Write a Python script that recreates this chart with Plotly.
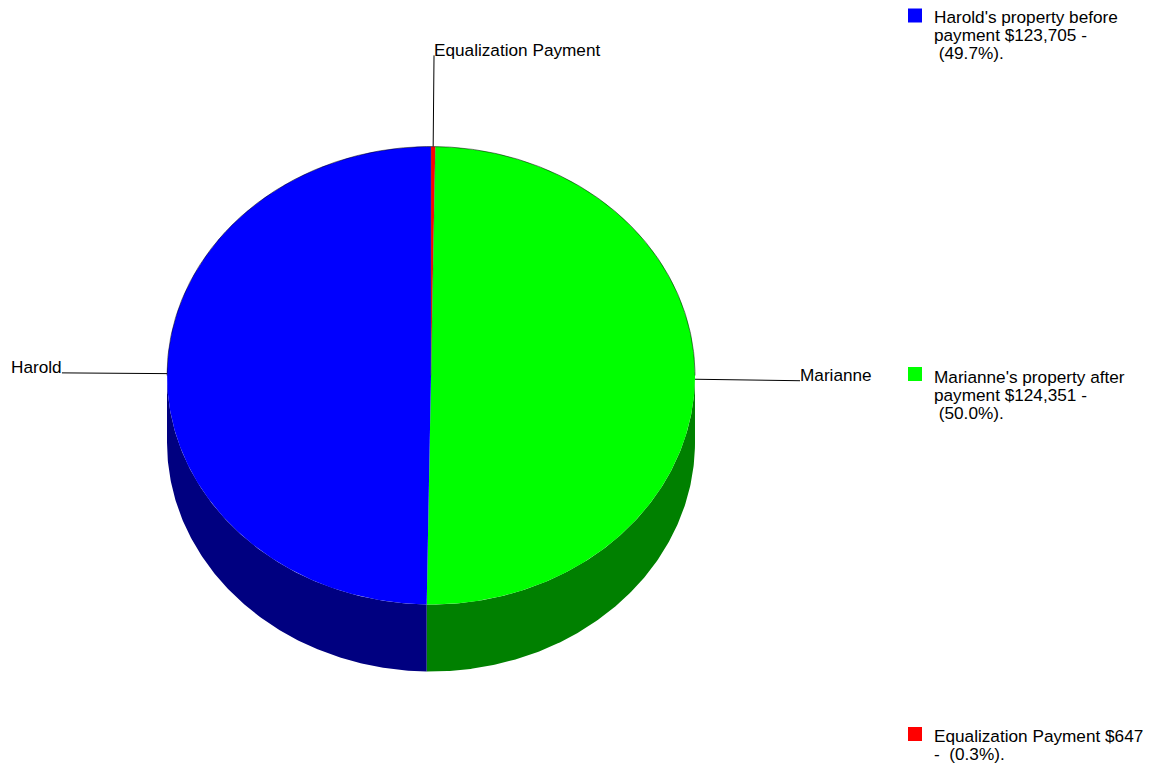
import math
import plotly.graph_objects as go

# Slice data, in clockwise drawing order starting at 12 o'clock
slice_names = ["Equalization Payment", "Marianne", "Harold"]
slice_values = [647, 124351, 123705]
top_colors = ["#ff0000", "#00ff00", "#0000ff"]
wall_colors = ["#800000", "#008000", "#000080"]

# Key entries, one list of lines per entry
key_lines = [
    ["Harold's property before", "payment $123,705 -", "\u00a0(49.7%)."],
    ["Marianne's property after", "payment $124,351 -", "\u00a0(50.0%)."],
    ["Equalization Payment $647", "-\u00a0\u00a0(0.3%)."],
]
key_colors = ["#0000ff", "#00ff00", "#ff0000"]
key_swatch_y = [15.5, 374, 734]
key_text_y = [16.5, 376.5, 735.5]

# Disc geometry in axis units (the axes span the page one unit per pixel)
CX, CY, RX, RY, DEPTH = 431, 375.5, 264, 229, 67
LEADER_REACH = 1.398
FONT = dict(family="Liberation Sans, Arial, sans-serif", size=17.2, color="#000000")
LINE_STEP = 18


def rim(angle_deg, reach=1.0, drop=0.0):
    a = math.radians(angle_deg)
    return CX + RX * reach * math.sin(a), CY - RY * reach * math.cos(a) + drop


def arc(start, end, drop=0.0):
    steps = max(2, int(abs(end - start) * 2))
    pts = [rim(start + (end - start) * i / steps, drop=drop) for i in range(steps + 1)]
    return [p[0] for p in pts], [p[1] for p in pts]


fig = go.Figure()
total = sum(slice_values)
start = 0.0
spans = []
for value in slice_values:
    sweep = 360.0 * value / total
    spans.append((start, start + sweep))
    start += sweep

# Outer wall: only the part of each slice on the near half of the disc
for (a0, a1), wall in zip(spans, wall_colors):
    lo, hi = max(a0, 90.0), min(a1, 270.0)
    if lo >= hi:
        continue
    xs, ys = arc(lo, hi)
    xb, yb = arc(hi, lo, drop=DEPTH)
    fig.add_trace(go.Scatter(x=xs + xb, y=ys + yb, mode="lines", fill="toself",
                             fillcolor=wall, line=dict(width=0), hoverinfo="skip"))

# Top face of each slice
for (a0, a1), color in zip(spans, top_colors):
    xs, ys = arc(a0, a1)
    fig.add_trace(go.Scatter(x=[CX] + xs + [CX], y=[CY] + ys + [CY], mode="lines",
                             fill="toself", fillcolor=color, line=dict(width=0),
                             hoverinfo="skip"))

# Thin outline along the far rim and the sides of the narrow slice
xs, ys = arc(-90, 90)
fig.add_trace(go.Scatter(x=xs, y=ys, mode="lines", line=dict(color="#000000", width=0.5),
                         hoverinfo="skip"))
for angle in spans[0]:
    x_edge, y_edge = rim(angle)
    fig.add_trace(go.Scatter(x=[CX, x_edge], y=[CY, y_edge], mode="lines",
                             line=dict(color="#606060", width=0.4), hoverinfo="skip"))

# Leader lines and slice labels
annotations = []
for name, (a0, a1) in zip(slice_names, spans):
    mid = (a0 + a1) / 2
    x0, y0 = rim(mid)
    x1, y1 = rim(mid, reach=LEADER_REACH)
    fig.add_trace(go.Scatter(x=[x0, x1], y=[y0, y1], mode="lines",
                             line=dict(color="#000000", width=1), hoverinfo="skip"))
    annotations.append(dict(x=x1, y=y1 - 5.8, text=name, showarrow=False, font=FONT,
                            xanchor="right" if x1 < CX - 10 else "left", yanchor="middle",
                            borderpad=0, borderwidth=0))

# Key swatches and text
KEY_SWATCH_X, KEY_TEXT_X = 915, 934
fig.add_trace(go.Scatter(x=[KEY_SWATCH_X] * len(key_colors), y=key_swatch_y, mode="markers",
                         marker=dict(symbol="square", size=14, color=key_colors, line=dict(width=0)),
                         hoverinfo="skip"))
for lines, y0 in zip(key_lines, key_text_y):
    for i, line in enumerate(lines):
        annotations.append(dict(x=KEY_TEXT_X, y=y0 + i * LINE_STEP, text=line, showarrow=False,
                                font=FONT, xanchor="left", yanchor="middle",
                                borderpad=0, borderwidth=0))

fig.update_layout(
    width=1152, height=769, autosize=False, showlegend=False,
    margin=dict(l=0, r=0, t=0, b=0),
    paper_bgcolor="#ffffff", plot_bgcolor="#ffffff",
    xaxis=dict(range=[0, 1152], visible=False, fixedrange=True),
    yaxis=dict(range=[769, 0], visible=False, fixedrange=True),
    annotations=annotations,
)
fig.write_html("out.html", config=dict(displayModeBar=False))
